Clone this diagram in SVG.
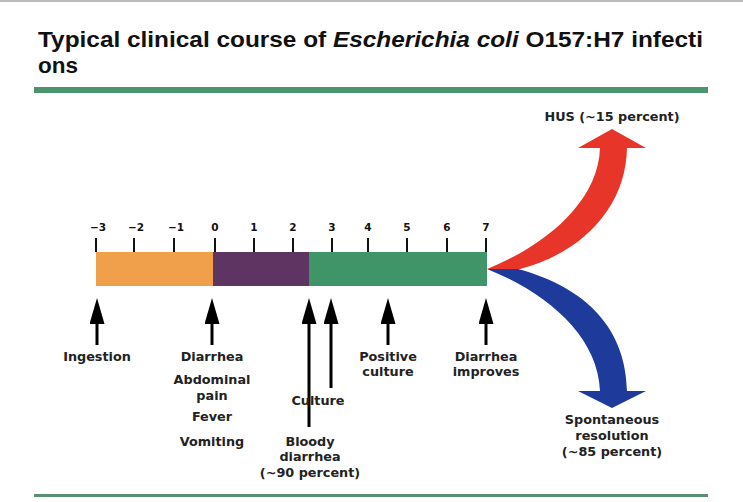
<svg xmlns="http://www.w3.org/2000/svg" width="743" height="502" viewBox="0 0 743 502">
<defs>
<style>
.t{font-family:"DejaVu Sans","Liberation Sans",sans-serif;font-weight:bold;font-size:12.8px;fill:#222;text-anchor:middle}
.tk{font-family:"DejaVu Sans","Liberation Sans",sans-serif;font-weight:bold;font-size:10.5px;fill:#111;text-anchor:middle}
.ttl{font-family:"Liberation Sans","DejaVu Sans",sans-serif;font-weight:bold;font-size:22px;fill:#111}
.tick{stroke:#111;stroke-width:2}
.shaft{stroke:#000;stroke-width:3}
</style>
<marker id="ah" viewBox="0 0 26 15" refX="1" refY="7.5" markerWidth="26" markerHeight="15" markerUnits="userSpaceOnUse" orient="auto">
<path d="M0,0 L26,7.5 L0,15 Z" fill="#000"/>
</marker>
</defs>
<rect width="743" height="502" fill="#fff"/>
<line x1="0" y1="1" x2="743" y2="1" stroke="#bbb" stroke-width="2"/>
<g id="title">
<text class="ttl" x="38" y="47" textLength="665" lengthAdjust="spacingAndGlyphs">Typical clinical course of <tspan font-style="italic">Escherichia coli</tspan> O157:H7 infecti</text>
<text class="ttl" x="38" y="73" textLength="40" lengthAdjust="spacingAndGlyphs">ons</text>
<rect x="34" y="87" width="674" height="6" fill="#4a9470"/>
</g>
<g id="timeline">
<rect x="96" y="252" width="117" height="34" fill="#f0a04b"/>
<rect x="213" y="252" width="96" height="34" fill="#5e3462"/>
<rect x="309" y="252" width="178" height="34" fill="#3f9468"/>
<g id="ticks">
<line class="tick" x1="96" y1="238" x2="96" y2="252"/>
<line class="tick" x1="134" y1="238" x2="134" y2="252"/>
<line class="tick" x1="174" y1="238" x2="174" y2="252"/>
<line class="tick" x1="215" y1="238" x2="215" y2="252"/>
<line class="tick" x1="254" y1="238" x2="254" y2="252"/>
<line class="tick" x1="293" y1="238" x2="293" y2="252"/>
<line class="tick" x1="332" y1="238" x2="332" y2="252"/>
<line class="tick" x1="368" y1="238" x2="368" y2="252"/>
<line class="tick" x1="407" y1="238" x2="407" y2="252"/>
<line class="tick" x1="447" y1="238" x2="447" y2="252"/>
<line class="tick" x1="486" y1="238" x2="486" y2="252"/>
<text class="tk" x="98" y="231">−3</text>
<text class="tk" x="136" y="231">−2</text>
<text class="tk" x="176" y="231">−1</text>
<text class="tk" x="215" y="231">0</text>
<text class="tk" x="254" y="231">1</text>
<text class="tk" x="293" y="231">2</text>
<text class="tk" x="332" y="231">3</text>
<text class="tk" x="368" y="231">4</text>
<text class="tk" x="407" y="231">5</text>
<text class="tk" x="447" y="231">6</text>
<text class="tk" x="486" y="231">7</text>
</g>
</g>
<g id="connectors">
<line class="shaft" x1="97" y1="345" x2="97" y2="323" marker-end="url(#ah)"/>
<line class="shaft" x1="212" y1="345" x2="212" y2="323" marker-end="url(#ah)"/>
<line class="shaft" x1="309" y1="427" x2="309" y2="323" marker-end="url(#ah)"/>
<line class="shaft" x1="331" y1="388" x2="331" y2="323" marker-end="url(#ah)"/>
<line class="shaft" x1="388" y1="345" x2="388" y2="323" marker-end="url(#ah)"/>
<line class="shaft" x1="486" y1="345" x2="486" y2="323" marker-end="url(#ah)"/>
</g>
<g id="hus-arrow">
<path d="M487,269 C540,248 598,205 600,148 L578,148 L612,129 L646,148 L627,148 C626,205 585,252 520,269 Z" fill="#e8352a"/>
</g>
<g id="resolution-arrow">
<path d="M487,269 L518,269 C588,288 626,330 627,391 L646,391 L612,408 L578,391 L600,391 C598,335 545,292 487,269 Z" fill="#1e3a9a"/>
</g>
<g id="labels">
<text class="t" x="97" y="361">Ingestion</text>
<text class="t" x="212" y="361">Diarrhea</text>
<text class="t" x="212" y="384">Abdominal</text>
<text class="t" x="212" y="400">pain</text>
<text class="t" x="212" y="421">Fever</text>
<text class="t" x="212" y="446">Vomiting</text>
<text class="t" x="310" y="446">Bloody</text>
<text class="t" x="310" y="461">diarrhea</text>
<text class="t" x="310" y="477">(~90 percent)</text>
<text class="t" x="318" y="405" text-anchor="start">Culture</text>
<text class="t" x="388" y="361">Positive</text>
<text class="t" x="388" y="376">culture</text>
<text class="t" x="486" y="361">Diarrhea</text>
<text class="t" x="486" y="376">improves</text>
<text class="t" x="612" y="121">HUS (~15 percent)</text>
<text class="t" x="612" y="424">Spontaneous</text>
<text class="t" x="612" y="440">resolution</text>
<text class="t" x="612" y="456">(~85 percent)</text>
</g>
<rect x="34" y="494" width="674" height="3" fill="#5a8f73"/>
</svg>
